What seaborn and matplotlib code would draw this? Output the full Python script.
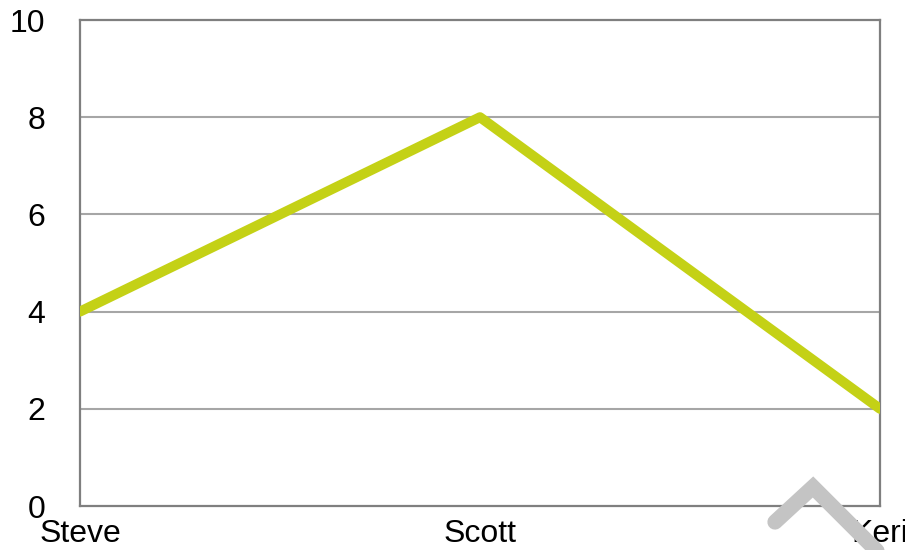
import matplotlib
matplotlib.use("Agg")
import matplotlib.pyplot as plt
import seaborn as sns
import pandas as pd
from matplotlib.lines import Line2D

names = ["Steve", "Scott", "Keri"]
values = [4, 8, 2]
yticks = [0, 2, 4, 6, 8, 10]

sns.set_style("white")
plt.rcParams['font.family'] = ['Liberation Sans', 'DejaVu Sans']

df = pd.DataFrame({"name": names, "value": values})

fig = plt.figure(figsize=(9.05, 5.5), dpi=100)
ax = fig.add_axes([80 / 905, 1 - 506 / 550, 800 / 905, 486 / 550])

sns.lineplot(data=df, x="name", y="value", ax=ax, color="#c4d116", linewidth=7.2,
             sort=False, zorder=3)

ax.set_xlim(0, len(names) - 1)
ax.set_ylim(0, 10)
ax.set_yticks(yticks)
ax.set_xlabel("")
ax.set_ylabel("")
for y in yticks[1:-1]:
    ax.axhline(y, color="#a6a6a6", linewidth=1.5, zorder=1)

for s in ax.spines.values():
    s.set_color("#7f7f7f")
    s.set_linewidth(1.6)
    s.set_visible(True)

ax.tick_params(axis="y", length=0, pad=25, labelsize=23, labelcolor="black")
ax.tick_params(axis="x", length=0, pad=9, labelsize=23, labelcolor="black")

# scroll-up chevron overlay in the bottom right corner
px = [775, 813, 884]
py = [522, 487, 558]
fig.add_artist(Line2D([x / 905 for x in px], [1 - y / 550 for y in py],
                      transform=fig.transFigure, color="#c4c4c4", linewidth=11,
                      solid_capstyle="round", solid_joinstyle="miter", zorder=10))

fig.savefig("out.png", dpi=100)
